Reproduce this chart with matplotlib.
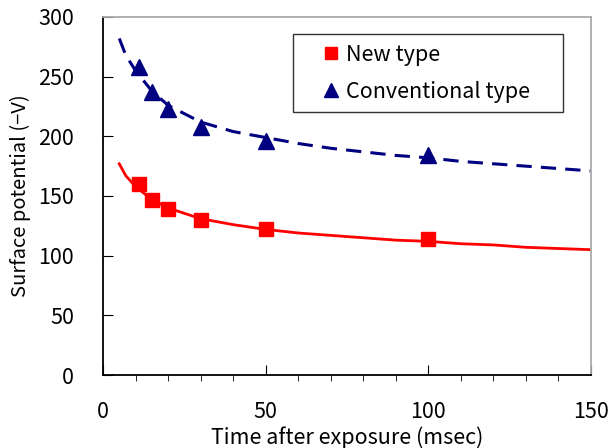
import numpy as np
import matplotlib.pyplot as plt
from matplotlib.ticker import MultipleLocator

# measured points
time_pts = [11, 15, 20, 30, 50, 100]
new_type = [160, 147, 139, 130, 122, 114]
conv_type = [258, 237, 223, 208, 196, 184]

# fitted curves
fit_t = [5, 7, 10, 15, 20, 30, 40, 50, 60, 70, 80, 90, 100, 110, 120, 130, 140, 150]
new_fit = [177, 167, 158, 147, 140, 131, 126, 122, 119, 117, 115, 113, 112, 110, 109, 107, 106, 105]
conv_fit = [282, 268, 255, 238, 226, 212, 204, 199, 194, 190, 187, 184, 182, 179, 177, 175, 173, 171]

plt.rcParams['font.family'] = ['Noto Sans CJK JP', 'DejaVu Sans']

fig = plt.figure(figsize=(6.11, 4.48), dpi=100)
ax = fig.add_axes([103 / 611, 1 - 375 / 448, 488 / 611, 358 / 448])

ax.plot(fit_t, new_fit, color='#ff0000', lw=2.0)
ax.plot(fit_t, conv_fit, color='#000080', lw=2.2, dashes=(5, 3))
ax.plot(time_pts, new_type, 's', color='#ff0000', ms=10, label='New type')
ax.plot(time_pts, conv_type, '^', color='#000080', ms=11, label='Conventional type')

ax.set_xlim(0, 150)
ax.set_ylim(0, 300)
ax.xaxis.set_major_locator(MultipleLocator(50))
ax.xaxis.set_minor_locator(MultipleLocator(10))
ax.yaxis.set_major_locator(MultipleLocator(50))
ax.tick_params(direction='in', labelsize=15.5)
ax.tick_params(axis='x', which='major', length=7, pad=19)
ax.tick_params(axis='x', which='minor', length=4)
ax.tick_params(axis='y', length=7, pad=21)
ax.spines['top'].set_color('#aaaaaa')
ax.spines['right'].set_color('#aaaaaa')
for s in ax.spines.values():
    s.set_linewidth(1.3)

ax.set_xlabel('Time after exposure (msec)', fontsize=15.5, labelpad=2)
ax.set_ylabel('Surface potential (\u2212V)', fontsize=14.5, labelpad=5)

leg = ax.legend(loc='upper left', bbox_to_anchor=(0.389, 0.751, 0.553, 0.202),
                mode='expand', borderaxespad=0, fontsize=15.5,
                frameon=True, fancybox=False, edgecolor='black',
                handlelength=2.6, handletextpad=-0.6, borderpad=0.45, labelspacing=0.7,
                markerscale=0.9)
leg.get_frame().set_linewidth(1.0)

fig.savefig('out.png', dpi=100)
